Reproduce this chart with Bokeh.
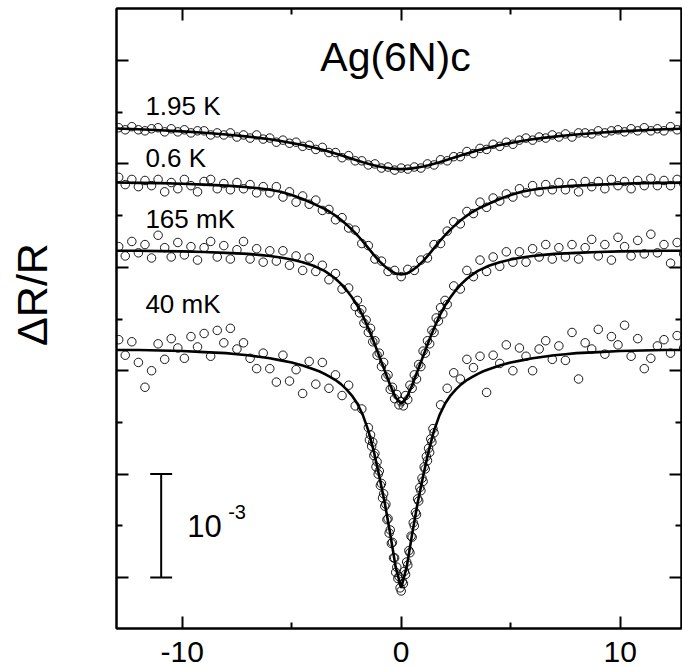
import math
from bokeh.plotting import figure
from bokeh.layouts import row, column
from bokeh.models import LinearAxis, FixedTicker, CustomJSTickFormatter, ColumnDataSource
from bokeh.core.properties import value
from bokeh.embed import file_html
from bokeh.resources import INLINE

# ---------------- data (ΔR/R in units of 1e-3, offset per curve) ----------------
TITLE = "Ag(6N)c"
Y_LABEL = "ΔR/R"
CURVE_LABELS = ["1.95 K", "0.6 K", "165 mK", "40 mK"]
SCALE_TEXT = "10"
SCALE_EXP = "-3"
SCALE_BAR = [0.0, 1.0]   # 10^-3 bar, bottom and top

X_TICKS = [-10, 0, 10]
X_TICK_LABELS = ["-10", "0", "10"]
X_MINOR_TICKS = [-5, 5]
Y_TICKS = [0, 1, 2, 3, 4, 5]
Y_MINOR_TICKS = [0.5, 1.5, 2.5, 3.5, 4.5]

PTS_195K = [(-12.9,4.35),(-12.6,4.33),(-12.3,4.36),(-12.0,4.33),(-11.7,4.32),(-11.4,4.34),(-11.1,4.35),(-10.8,4.31),(-10.5,4.34),(-10.2,4.31),(-9.9,4.33),(-9.6,4.30),(-9.3,4.32),(-9.0,4.32),(-8.7,4.28),(-8.4,4.30),(-8.1,4.28),(-7.8,4.30),(-7.5,4.26),(-7.2,4.28),(-6.9,4.25),(-6.6,4.28),(-6.3,4.24),(-6.0,4.25),(-5.7,4.21),(-5.4,4.23),(-5.1,4.20),(-4.8,4.21),(-4.5,4.17),(-4.2,4.18),(-3.9,4.14),(-3.6,4.16),(-3.3,4.11),(-3.0,4.11),(-2.7,4.06),(-2.4,4.08),(-2.1,4.03),(-1.8,4.03),(-1.5,3.99),(-1.2,4.00),(-0.9,3.96),(-0.6,3.97),(-0.3,3.94),(0.0,3.96),(0.3,3.95),(0.6,3.97),(0.9,3.96),(1.2,4.00),(1.5,3.99),(1.8,4.04),(2.1,4.03),(2.4,4.07),(2.7,4.07),(3.0,4.12),(3.3,4.10),(3.6,4.15),(3.9,4.14),(4.2,4.19),(4.5,4.17),(4.8,4.21),(5.1,4.19),(5.4,4.23),(5.7,4.25),(6.0,4.23),(6.3,4.26),(6.6,4.25),(6.9,4.28),(7.2,4.26),(7.5,4.29),(7.8,4.26),(8.1,4.30),(8.4,4.30),(8.7,4.29),(9.0,4.32),(9.3,4.30),(9.6,4.32),(9.9,4.33),(10.2,4.31),(10.5,4.34),(10.8,4.32),(11.1,4.35),(11.4,4.32),(11.7,4.34),(12.0,4.32),(12.3,4.36),(12.6,4.33),(12.9,4.35)]

PTS_06K = [(-12.9,3.87),(-12.6,3.80),(-12.3,3.85),(-12.0,3.78),(-11.7,3.84),(-11.4,3.79),(-11.1,3.85),(-10.8,3.73),(-10.5,3.82),(-10.2,3.76),(-9.9,3.85),(-9.6,3.79),(-9.3,3.73),(-9.0,3.83),(-8.7,3.85),(-8.4,3.76),(-8.1,3.81),(-7.8,3.75),(-7.5,3.82),(-7.2,3.76),(-6.9,3.80),(-6.6,3.72),(-6.3,3.78),(-6.0,3.72),(-5.7,3.78),(-5.4,3.68),(-5.1,3.73),(-4.8,3.63),(-4.5,3.69),(-4.2,3.61),(-3.9,3.65),(-3.6,3.55),(-3.3,3.56),(-3.0,3.46),(-2.7,3.48),(-2.4,3.38),(-2.1,3.36),(-1.8,3.23),(-1.5,3.21),(-1.2,3.08),(-0.9,3.06),(-0.6,2.96),(-0.3,2.97),(0.0,2.91),(0.3,2.98),(0.6,2.97),(0.9,3.07),(1.2,3.09),(1.5,3.22),(1.8,3.23),(2.1,3.35),(2.4,3.44),(2.7,3.42),(3.0,3.54),(3.3,3.52),(3.6,3.63),(3.9,3.58),(4.2,3.67),(4.5,3.64),(4.8,3.71),(5.1,3.68),(5.4,3.76),(5.7,3.72),(6.0,3.79),(6.3,3.73),(6.6,3.80),(6.9,3.75),(7.2,3.82),(7.5,3.75),(7.8,3.81),(8.1,3.73),(8.4,3.83),(8.7,3.78),(9.0,3.83),(9.3,3.76),(9.6,3.85),(9.9,3.79),(10.2,3.83),(10.5,3.76),(10.8,3.84),(11.1,3.79),(11.4,3.86),(11.7,3.79),(12.0,3.84),(12.3,3.79),(12.6,3.85),(12.9,3.81)]

PTS_165MK = [(-12.9,3.20),(-12.6,3.11),(-12.3,3.25),(-12.0,3.14),(-11.7,3.22),(-11.4,3.09),(-11.1,3.31),(-10.8,3.19),(-10.5,3.10),(-10.2,3.24),(-9.9,3.12),(-9.6,3.20),(-9.3,3.07),(-9.0,3.19),(-8.7,3.25),(-8.4,3.10),(-8.1,3.21),(-7.8,3.08),(-7.5,3.17),(-7.2,3.25),(-6.9,3.08),(-6.6,3.18),(-6.3,3.05),(-6.0,3.16),(-5.7,3.06),(-5.4,3.16),(-5.1,3.02),(-4.8,3.11),(-4.5,2.97),(-4.2,3.09),(-3.9,2.96),(-3.6,3.02),(-3.3,2.88),(-3.0,2.94),(-2.7,2.79),(-2.4,2.80),
             (-2.1,2.62),(-2.0,2.68),(-1.9,2.56),(-1.8,2.59),(-1.7,2.46),(-1.6,2.49),(-1.5,2.37),(-1.4,2.41),(-1.3,2.28),(-1.2,2.29),(-1.1,2.15),(-1.0,2.17),(-0.9,2.04),(-0.8,2.08),(-0.7,1.94),(-0.6,1.96),(-0.5,1.82),(-0.4,1.84),(-0.3,1.73),(-0.2,1.77),(-0.1,1.67),(0.0,1.70),(0.1,1.66),(0.2,1.76),(0.3,1.72),(0.4,1.86),(0.5,1.83),(0.6,1.96),(0.7,1.92),(0.8,2.06),(0.9,2.04),(1.0,2.19),(1.1,2.17),(1.2,2.29),(1.3,2.26),(1.4,2.39),(1.5,2.37),(1.6,2.51),(1.7,2.48),(1.8,2.61),(1.9,2.55),(2.0,2.68),(2.1,2.64),
             (2.4,2.82),(2.7,2.79),(3.0,2.97),(3.3,2.91),(3.6,3.07),(3.9,2.96),(4.2,3.10),(4.5,3.01),(4.8,3.15),(5.1,3.05),(5.4,3.15),(5.7,3.05),(6.0,3.18),(6.3,3.10),(6.6,3.22),(6.9,3.08),(7.2,3.19),(7.5,3.10),(7.8,3.22),(8.1,3.08),(8.4,3.19),(8.7,3.27),(9.0,3.11),(9.3,3.22),(9.6,3.07),(9.9,3.29),(10.2,3.20),(10.5,3.11),(10.8,3.26),(11.1,3.13),(11.4,3.32),(11.7,3.14),(12.0,3.22),(12.3,3.04),(12.6,3.24),(12.9,3.13)]

PTS_40MK = [(-12.9,2.30),(-12.6,2.15),(-12.3,2.28),(-12.0,2.08),(-11.7,1.84),(-11.4,2.00),(-11.1,2.26),(-10.8,2.11),(-10.5,2.31),(-10.2,2.22),(-9.9,2.12),(-9.6,2.33),(-9.3,2.23),(-9.0,2.36),(-8.7,2.14),(-8.4,2.39),(-8.1,2.27),(-7.8,2.41),(-7.5,2.21),(-7.2,2.27),(-6.9,2.12),(-6.6,2.02),(-6.3,2.17),(-6.0,2.02),(-5.7,1.89),(-5.4,2.15),(-5.1,1.90),(-4.8,2.01),(-4.5,1.78),(-4.2,2.09),(-3.9,1.87),(-3.6,2.08),(-3.3,1.83),(-3.0,1.96),(-2.7,1.76),(-2.4,1.86),(-2.1,1.66),(-1.8,1.63),
            (-1.50,1.45),(-1.45,1.33),(-1.40,1.38),(-1.35,1.27),(-1.30,1.31),(-1.25,1.18),(-1.20,1.20),(-1.15,1.07),(-1.10,1.12),(-1.05,1.00),(-1.00,1.03),(-0.95,0.89),(-0.90,0.91),(-0.85,0.77),(-0.80,0.81),(-0.75,0.69),(-0.70,0.71),(-0.65,0.56),(-0.60,0.57),(-0.55,0.43),(-0.50,0.46),(-0.45,0.33),(-0.40,0.34),(-0.35,0.19),(-0.30,0.19),(-0.25,0.05),(-0.20,0.10),(-0.15,-0.01),(-0.10,0.01),(-0.05,-0.10),(0.00,-0.13),(0.05,-0.04),(0.10,-0.06),(0.15,0.06),(0.20,0.03),(0.25,0.15),(0.30,0.12),(0.35,0.26),(0.40,0.24),(0.45,0.40),(0.50,0.39),(0.55,0.53),(0.60,0.50),(0.65,0.63),(0.70,0.61),(0.75,0.76),(0.80,0.74),(0.85,0.87),(0.90,0.84),(0.95,0.96),(1.00,0.93),(1.05,1.07),(1.10,1.05),(1.15,1.17),(1.20,1.13),(1.25,1.25),(1.30,1.21),(1.35,1.34),(1.40,1.31),(1.45,1.44),(1.50,1.40),
            (1.8,1.67),(2.1,1.83),(2.4,1.98),(2.7,1.92),(3.0,2.11),(3.3,2.03),(3.6,2.14),(3.9,1.79),(4.2,2.15),(4.5,2.07),(4.8,2.25),(5.1,2.00),(5.4,2.22),(5.7,2.14),(6.0,2.00),(6.3,2.21),(6.6,2.29),(6.9,2.11),(7.2,2.24),(7.5,2.10),(7.8,2.37),(8.1,1.92),(8.4,2.27),(8.7,2.21),(9.0,2.40),(9.3,2.16),(9.6,2.33),(9.9,2.25),(10.2,2.44),(10.5,2.14),(10.8,2.31),(11.1,2.02),(11.4,2.12),(11.7,2.24),(12.0,2.30),(12.3,2.17),(12.6,2.34),(12.9,2.22)]

# fitted curves, read at |B| (symmetric in field)
FIT_X_HALF = [0, 0.25, 0.5, 0.75, 1.0, 1.25, 1.5, 1.75, 2.0, 2.25, 2.5, 2.75, 3.0, 3.25, 3.5, 3.75, 4.0, 4.5, 5.0, 5.5, 6.0, 6.5, 7.0, 7.5, 8.0, 9.0, 10.0, 11.0, 12.0, 13.0]
FIT_195K = [3.950, 3.952, 3.957, 3.965, 3.975, 3.988, 4.002, 4.017, 4.033, 4.050, 4.067, 4.084, 4.100, 4.116, 4.131, 4.145, 4.158, 4.182, 4.203, 4.222, 4.238, 4.252, 4.264, 4.275, 4.285, 4.302, 4.315, 4.326, 4.335, 4.342]
FIT_06K = [2.930, 2.940, 2.970, 3.010, 3.060, 3.120, 3.185, 3.250, 3.310, 3.365, 3.415, 3.460, 3.500, 3.535, 3.565, 3.590, 3.615, 3.660, 3.700, 3.730, 3.750, 3.765, 3.775, 3.783, 3.790, 3.800, 3.808, 3.814, 3.817, 3.820]
FIT_165MK = [1.680, 1.740, 1.860, 2.000, 2.140, 2.280, 2.410, 2.530, 2.630, 2.710, 2.780, 2.840, 2.890, 2.930, 2.965, 2.990, 3.015, 3.050, 3.075, 3.095, 3.110, 3.120, 3.130, 3.135, 3.140, 3.148, 3.154, 3.157, 3.160, 3.160]
FIT_40MK = [-0.100, 0.100, 0.420, 0.720, 0.980, 1.220, 1.420, 1.570, 1.680, 1.760, 1.820, 1.870, 1.910, 1.940, 1.970, 1.995, 2.015, 2.050, 2.080, 2.100, 2.120, 2.135, 2.150, 2.160, 2.170, 2.180, 2.190, 2.195, 2.200, 2.200]

# ---------------- figures ----------------
FONT = "Liberation Sans"

# main plot
p = figure(width=570, height=631, x_range=(-13.0, 12.8), y_range=(-0.493, 5.503),
           output_backend="svg", toolbar_location=None,
           x_axis_location=None, y_axis_location=None,
           min_border_left=4, min_border_right=1, min_border_top=8, min_border_bottom=3)
p.grid.visible = False
p.outline_line_color = "black"
p.outline_line_width = 2
p.background_fill_color = "white"
p.border_fill_color = "white"


def style_axis(ax):
    ax.axis_line_color = "black"
    ax.axis_line_width = 2
    ax.major_tick_in = 12
    ax.major_tick_out = 0
    ax.minor_tick_in = 6
    ax.minor_tick_out = 0
    ax.major_tick_line_width = 2
    ax.minor_tick_line_width = 2
    ax.major_tick_line_color = "black"
    ax.minor_tick_line_color = "black"
    ax.formatter = CustomJSTickFormatter(code="return ''")
    ax.major_label_standoff = 0
    ax.major_label_text_font_size = "1px"


for side, ticks, minor in [("below", X_TICKS, X_MINOR_TICKS), ("above", X_TICKS, X_MINOR_TICKS),
                           ("left", Y_TICKS, Y_MINOR_TICKS), ("right", Y_TICKS, Y_MINOR_TICKS)]:
    ax = LinearAxis(ticker=FixedTicker(ticks=ticks, minor_ticks=minor))
    style_axis(ax)
    p.add_layout(ax, side)


def mirror(xh, yh):
    xs = [-v for v in xh[:0:-1]] + list(xh)
    ys = list(yh[:0:-1]) + list(yh)
    return xs, ys


for pts, fit in [(PTS_195K, FIT_195K), (PTS_06K, FIT_06K), (PTS_165MK, FIT_165MK), (PTS_40MK, FIT_40MK)]:
    src = ColumnDataSource(dict(x=[a for a, b in pts], y=[b for a, b in pts]))
    p.scatter("x", "y", source=src, marker="circle", size=8.5, fill_color=None,
              line_color="black", line_width=0.9)
    fx, fy = mirror(FIT_X_HALF, fit)
    p.line(fx, fy, line_color="black", line_width=2.6)

# curve labels
lab_src = ColumnDataSource(dict(x=[-11.68] * 4, y=[4.56, 4.06, 3.47, 2.65], t=CURVE_LABELS))
p.text("x", "y", text="t", source=lab_src, text_font=value(FONT), text_font_size="26px",
       text_align="left", text_baseline="alphabetic", text_color="black")

# title
p.text(x=[-0.26], y=[5.03], text=[TITLE], text_font=value(FONT), text_font_size="41px",
       text_align="center", text_baseline="alphabetic", text_color="black")

# scale bar 10^-3
sx = -10.96
hw = 0.5
p.segment(x0=[sx, sx - hw, sx - hw], y0=[SCALE_BAR[0], SCALE_BAR[0], SCALE_BAR[1]],
          x1=[sx, sx + hw, sx + hw], y1=[SCALE_BAR[1], SCALE_BAR[0], SCALE_BAR[1]],
          line_color="black", line_width=2)
p.text(x=[-9.77], y=[0.50], text=[SCALE_TEXT], text_font=value(FONT), text_font_size="31px",
       text_align="left", text_baseline="alphabetic", text_color="black")
p.text(x=[-7.9], y=[0.63], text=[SCALE_EXP], text_font=value(FONT), text_font_size="20px",
       text_align="left", text_baseline="alphabetic", text_color="black")

# x tick labels strip (shares the x scale of the main plot)
xl = figure(width=570, height=38, x_range=p.x_range, y_range=(0, 38),
            output_backend="svg", toolbar_location=None,
            x_axis_location=None, y_axis_location=None,
            min_border_left=4, min_border_right=1, min_border_top=0, min_border_bottom=0)
xl.grid.visible = False
xl.outline_line_color = None
xl.text(x=X_TICKS, y=[18] * len(X_TICKS), text=X_TICK_LABELS, text_font=value(FONT),
        text_font_size="30px", text_align="center", text_baseline="alphabetic", text_color="black")

# y axis title strip
yl = figure(width=112, height=669, x_range=(0, 112), y_range=(0, 669),
            output_backend="svg", toolbar_location=None,
            x_axis_location=None, y_axis_location=None, min_border=0)
yl.grid.visible = False
yl.outline_line_color = None
yl.text(x=[31], y=[375], text=[Y_LABEL], angle=math.pi / 2, text_font=value(FONT),
        text_font_size="43px", text_align="center", text_baseline="middle", text_color="black")

layout = row(yl, column(p, xl, spacing=0), spacing=0)
open("out.html", "w").write(file_html(layout, INLINE))
